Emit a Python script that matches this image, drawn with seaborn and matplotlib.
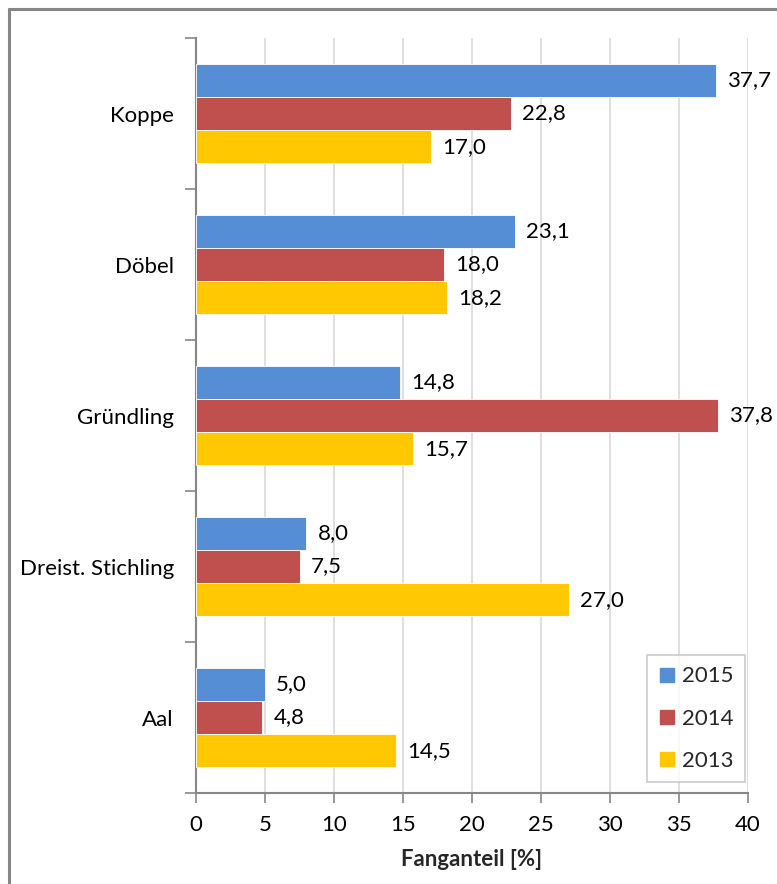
import matplotlib
matplotlib.use("Agg")
import matplotlib.pyplot as plt
from matplotlib.lines import Line2D
from matplotlib.ticker import FixedLocator
import seaborn as sns
import pandas as pd

# Catch shares per species and year
species = ["Koppe", "Döbel", "Gründling", "Dreist. Stichling", "Aal"]
years = ["2015", "2014", "2013"]
share_2015 = [37.7, 23.1, 14.8, 8.0, 5.0]
share_2014 = [22.8, 18.0, 37.8, 7.5, 4.8]
share_2013 = [17.0, 18.2, 15.7, 27.0, 14.5]
x_ticks = [0, 5, 10, 15, 20, 25, 30, 35, 40]

colors = {"2015": "#558ED5", "2014": "#C0504D", "2013": "#FFC800"}

df = pd.DataFrame({
    "Art": species * 3,
    "Jahr": ["2015"] * 5 + ["2014"] * 5 + ["2013"] * 5,
    "Anteil": share_2015 + share_2014 + share_2013,
})

sns.set_theme(style="white")
plt.rcParams["font.family"] = ["Lato", "DejaVu Sans"]
FS = 16

fig = plt.figure(figsize=(7.77, 8.84), dpi=100)
ax = fig.add_axes([0.2523, 0.1029, 0.7104, 0.8541])

sns.barplot(data=df, y="Art", x="Anteil", hue="Jahr", order=species,
            hue_order=years, palette=colors, saturation=1, orient="h", width=0.66,
            edgecolor="white", linewidth=0.6, ax=ax, zorder=3)

# value labels with decimal comma
for cont, yr in zip(ax.containers, years):
    vals = [v for v in cont.datavalues]
    ax.bar_label(cont, labels=[f"{v:.1f}".replace(".", ",") for v in vals],
                 padding=8, fontsize=FS, color="black", clip_on=False)

ax.set_xlim(0, 40)
ax.set_ylim(4.5, -0.5)
ax.set_xticks(x_ticks)
ax.set_xticklabels([str(t) for t in x_ticks], fontsize=FS)
ax.set_yticks(range(len(species)))
ax.set_yticklabels(species, fontsize=FS)
ax.yaxis.set_minor_locator(FixedLocator([i - 0.5 for i in range(len(species) + 1)]))
ax.tick_params(axis="y", which="major", length=0, pad=16, colors="black")
ax.tick_params(axis="y", which="minor", left=True, length=8, width=1.2, color="#868686")
ax.tick_params(axis="x", which="major", bottom=True, length=7, width=1.2,
               color="#868686", pad=9, labelcolor="black")

ax.grid(axis="x", color="#D9D9D9", linewidth=1.2, zorder=0)
ax.set_axisbelow(True)
for side in ["top", "right"]:
    ax.spines[side].set_visible(False)
for side in ["left", "bottom"]:
    ax.spines[side].set_color("#868686")
    ax.spines[side].set_linewidth(1.5)

ax.set_ylabel("")
ax.set_xlabel("Fanganteil [%]", fontsize=FS, fontweight="bold", labelpad=10)

handles = [Line2D([0], [0], marker="s", linestyle="none", markersize=10,
                  markerfacecolor=colors[y], markeredgecolor=colors[y]) for y in years]
leg = ax.legend(handles, years, loc="lower right", bbox_to_anchor=(0.9946, 0.0146),
                fontsize=FS, frameon=True, fancybox=False, labelspacing=1.0,
                handletextpad=0.3, borderpad=0.5, handlelength=0.8,
                borderaxespad=0.0)
leg.get_frame().set_edgecolor("#BFBFBF")
leg.get_frame().set_linewidth(1.2)

# outer frame of the chart area
fig.add_artist(Line2D([9 / 777, 9 / 777], [0, 1 - 9 / 884], transform=fig.transFigure,
                      color="#868686", linewidth=2.2))
fig.add_artist(Line2D([9 / 777, 1], [1 - 9 / 884, 1 - 9 / 884], transform=fig.transFigure,
                      color="#868686", linewidth=2.2))

fig.savefig("out.png", dpi=100, facecolor="white")
